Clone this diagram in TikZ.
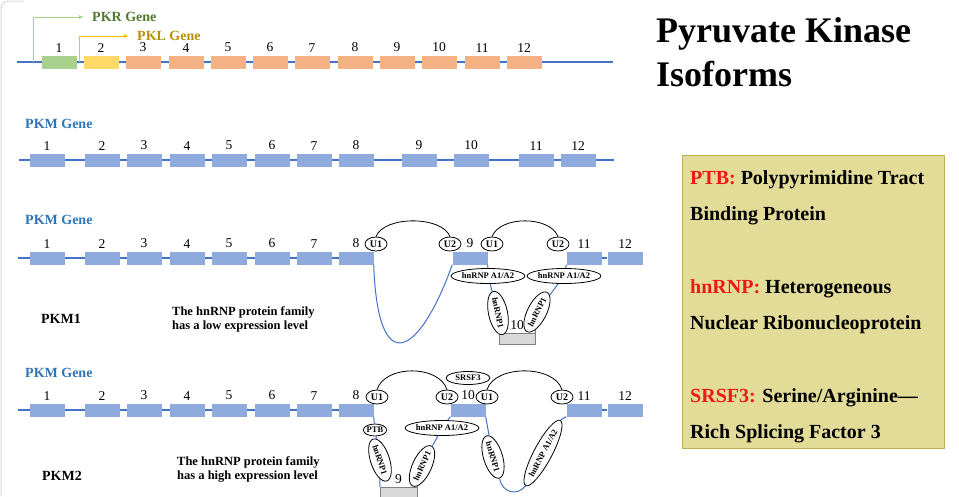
\documentclass[tikz,border=0pt]{standalone}
\usepackage{fontspec}
\setmainfont{Liberation Serif}
\usetikzlibrary{arrows.meta,shapes.geometric}
\definecolor{exonblue}{HTML}{8FAADC}
\definecolor{lineblue}{HTML}{4472C4}
\definecolor{genelabel}{HTML}{2E75B6}
\definecolor{exongreen}{HTML}{A9D18E}
\definecolor{pkrgreen}{HTML}{507A2C}
\definecolor{exonyellow}{HTML}{FFD966}
\definecolor{pklgold}{HTML}{FFC000}
\definecolor{pkltext}{HTML}{B8900A}
\definecolor{exonorange}{HTML}{F4B183}
\definecolor{skipgray}{HTML}{D9D9D9}
\definecolor{notekhaki}{HTML}{E3DC98}
\definecolor{noteedge}{HTML}{C4AE55}
\definecolor{notered}{HTML}{F01818}

\begin{document}
\begin{tikzpicture}[
    x=1pt, y=-1pt,
    exon/.style={rectangle, minimum width=35pt, minimum height=13pt, inner sep=0pt, fill=exonblue},
    skipped/.style={rectangle, draw=gray, fill=skipgray, minimum width=36pt, minimum height=11pt, inner sep=0pt},
    num/.style={font=\fontsize{13.5}{13.5}\selectfont, inner sep=1pt, label distance=2pt},
    backbone/.style={draw=lineblue, line width=1.1pt},
    intron/.style={draw=lineblue, line width=1pt},
    spliceloop/.style={draw=black, line width=0.8pt},
    snrnp/.style={ellipse, draw, fill=white, line width=0.8pt, inner sep=0pt, minimum width=22pt, minimum height=14pt, font=\fontsize{10}{10}\selectfont\bfseries},
    protein/.style={ellipse, draw, fill=white, line width=0.8pt, inner sep=0pt, minimum height=15pt, font=\fontsize{8.5}{9}\selectfont\bfseries},
    genename/.style={anchor=west, inner sep=0pt, font=\fontsize{14}{14}\selectfont\bfseries},
    promoter/.style={line width=1pt, -{Latex[length=5pt, width=4pt]}, shorten >=8pt},
    note/.style={anchor=west, align=left, inner sep=0pt, font=\fontsize{12.5}{14}\selectfont\bfseries}
]
\useasboundingbox (0,0) rectangle (959,496);
\draw[gray!30, line width=1pt, rounded corners=8pt] (1,496) -- (1,1) -- (24,1);

% title and abbreviations
\node[anchor=west, align=left, inner sep=0pt, font=\fontsize{36}{44}\selectfont\bfseries] (title) at (656,52) {Pyruvate Kinase\\Isoforms};
\node[draw=noteedge, fill=notekhaki, line width=1pt, minimum width=262pt, minimum height=293pt, anchor=north west] (notes) at (682,155) {};
\node[note, font=\fontsize{20}{36}\selectfont\bfseries] (ptb) at (690,198) {\textcolor{notered}{PTB:} Polypyrimidine Tract\\Binding Protein};
\node[note, font=\fontsize{20}{36}\selectfont\bfseries] (hnrnp) at (690,307) {\textcolor{notered}{hnRNP:} Heterogeneous\\Nuclear Ribonucleoprotein};
\node[note, font=\fontsize{20}{36}\selectfont\bfseries] (srsf) at (690,416) {\textcolor{notered}{SRSF3:} Serine/Arginine---\\Rich Splicing Factor 3};

% PKR / PKL gene
\coordinate (l0) at (17,62);
\coordinate (l13) at (613,62);
\draw[backbone] (l0) -- (l13);
\foreach \n/\x/\c in {1/59/exongreen,2/101/exonyellow,3/143/exonorange,4/186/exonorange,5/228/exonorange,6/270/exonorange,7/312/exonorange,8/355/exonorange,9/397/exonorange,10/439/exonorange,11/482/exonorange,12/524/exonorange}
    \node[exon, fill=\c, label={[num]above:\n}] (l\n) at (\x,62) {};
\coordinate (pkr) at (33,62);
\coordinate (pkl) at (79,62);
\node[genename, text=pkrgreen] (pkrlbl) at (92,17) {PKR Gene};
\node[genename, text=pkltext] (pkllbl) at (137,36) {PKL Gene};
\draw[promoter, draw=exongreen] (pkr) |- (pkrlbl.west);
\draw[promoter, draw=pklgold] (pkl) |- (pkllbl.west);

% PKM gene
\node[genename, text=genelabel] (pkm) at (25,124) {PKM Gene};
\coordinate (g0) at (19,160);
\coordinate (g13) at (614,160);
\draw[backbone] (g0) -- (g13);
\foreach \n/\x in {1/47,2/102,3/144,4/187,5/229,6/272,7/314,8/356,9/419,10/471,11/536,12/578}
    \node[exon, label={[num]above:\n}] (g\n) at (\x,160) {};

% PKM1: exon 10 skipped
\node[genename, text=genelabel] (pkma) at (25,220) {PKM Gene};
\coordinate (a0) at (18,258);
\coordinate (a8m) at (356,258);
\draw[backbone] (a0) -- (a8m);
\foreach \n/\x in {1/47,2/102,3/144,4/187,5/229,6/272,7/314,8/356}
    \node[exon, label={[num]above:\n}] (a\n) at (\x,258) {};
\node[exon, label={[num]above:9}] (a9) at (470,258) {};
\node[exon, label={[num]above:11}] (a11) at (584,258) {};
\node[exon, label={[num]above:12}] (a12) at (625,258) {};
\draw[backbone] (a11) -- (a12);
\node[skipped, label={[num]above:10}] (m1x10) at (517,338.5) {};
\node[snrnp] (m1u1) at (376,244) {U1};
\node[snrnp] (m1u2) at (450,244) {U2};
\node[snrnp] (m1u3) at (492,244) {U1};
\node[snrnp] (m1u4) at (558,244) {U2};
\node[protein] (m1aL) at (488,276) {hnRNP A1/A2};
\node[protein] (m1aR) at (564,276) {hnRNP A1/A2};
\node[protein, minimum height=19pt, rotate=-78] (m1hL) at (498,313) {hnRNP1};
\node[protein, minimum height=19pt, rotate=63] (m1hR) at (537,312) {hnRNP1};
\draw[spliceloop] (m1u1.north) .. controls +(8,-21) and +(-8,-21) .. (m1u2.north);
\draw[spliceloop] (m1u3.north) .. controls +(8,-21) and +(-8,-21) .. (m1u4.north);
\draw[intron] (a8.south east) .. controls +(4,114) and +(-34,94) .. (a9.south west);
\draw[intron] (a9.south east) -- (m1aL);
\draw[intron] (m1aL) -- (m1hL);
\draw[intron] (m1hL) -- (m1x10.north west);
\draw[intron] (a11.south west) -- (m1aR);
\draw[intron] (m1aR) -- (m1hR);
\draw[intron] (m1hR) -- (m1x10.north east);
\node[font=\fontsize{14}{14}\selectfont\bfseries] (pkm1) at (61,319) {PKM1};
\node[note] (lownote) at (172,319) {The hnRNP protein family\\has a low expression level};

% PKM2: exon 9 skipped
\node[genename, text=genelabel] (pkmb) at (25,373) {PKM Gene};
\coordinate (b0) at (18,410);
\coordinate (b8m) at (356,410);
\draw[backbone] (b0) -- (b8m);
\foreach \n/\x in {1/47,2/102,3/144,4/187,5/229,6/272,7/314,8/356}
    \node[exon, label={[num]above:\n}] (b\n) at (\x,410) {};
\node[exon, label={[num]above:10}] (b10) at (468,410) {};
\node[exon, label={[num]above:11}] (b11) at (584,410) {};
\node[exon, label={[num]above:12}] (b12) at (625,410) {};
\draw[backbone] (b11) -- (b12);
\node[skipped, minimum width=37pt, minimum height=12pt, label={[num]above:9}] (m2x9) at (398.5,493) {};
\node[snrnp] (m2u1) at (377,397) {U1};
\node[snrnp] (m2u2) at (447,397) {U2};
\node[snrnp] (m2u3) at (487,397) {U1};
\node[snrnp] (m2u4) at (562,397) {U2};
\draw[spliceloop] (m2u1.north) .. controls +(8,-25) and +(-8,-25) .. (m2u2.north);
\draw[spliceloop] (m2u3.north) .. controls +(8,-25) and +(-8,-25) .. (m2u4.north);
\node[protein, minimum width=44pt, minimum height=13pt] (m2sr) at (468,378) {SRSF3};
\node[protein, minimum width=22pt, minimum height=12pt] (m2ptb) at (375,430) {PTB};
\node[protein, minimum height=19pt, rotate=-72] (m2hL) at (380,460) {hnRNP1};
\node[protein] (m2aL) at (442,428) {hnRNP A1/A2};
\node[protein, minimum height=19pt, rotate=65] (m2hM) at (422,466) {hnRNP1};
\node[protein, minimum height=19pt, rotate=-73] (m2hR) at (493,457) {hnRNP1};
\node[protein, minimum height=18pt, rotate=62] (m2aX) at (543,453) {hnRNP A1/A2};
\draw[intron] (b8.south east) -- (m2ptb);
\draw[intron] (m2ptb) -- (m2hL);
\draw[intron] (m2hL) -- (m2x9.north west);
\draw[intron] (b10.south west) -- (m2aL);
\draw[intron] (m2aL) -- (m2hM);
\draw[intron] (m2hM) -- (m2x9.north east);
\draw[intron] (b10.south east) -- (m2hR);
\draw[intron] (m2hR.east) .. controls +(3,15) and +(-8,10) .. (m2aX.west);
\draw[intron] (m2aX.east) -- (b11.south west);
\node[font=\fontsize{14}{14}\selectfont\bfseries] (pkm2) at (62,476) {PKM2};
\node[note] (highnote) at (177,469) {The hnRNP protein family\\has a high expression level};
\end{tikzpicture}
\end{document}
